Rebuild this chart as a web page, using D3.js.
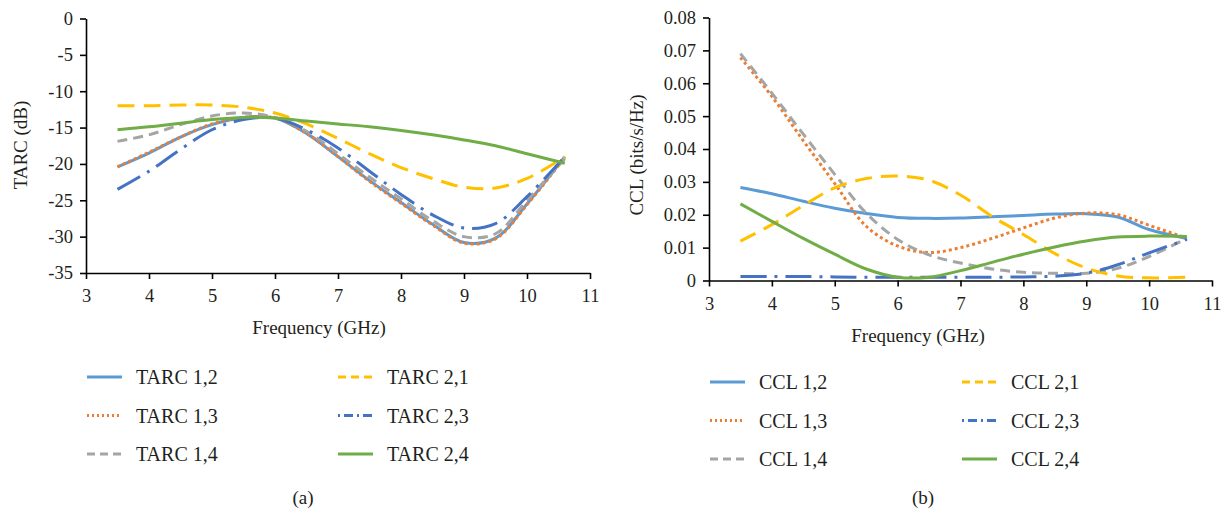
<!DOCTYPE html>
<html>
<head>
<meta charset="utf-8">
<script src="https://cdn.jsdelivr.net/npm/d3@7"></script>
<style>
  body { margin: 0; background: #fff; }
  svg text { font-family: "Liberation Serif", "Times New Roman", serif; fill: #231f20; }
</style>
</head>
<body>
<div id="vizcontainer"></div>
<script>
// frequency grid (GHz)
const freq = [3.5, 4, 4.5, 5, 5.5, 6, 6.5, 7, 7.5, 8, 8.5, 9, 9.5, 10, 10.6];

// panel (a): TARC in dB
const tarc12 = [-20.4, -18.5, -16.3, -14.6, -13.6, -13.7, -15.8, -19.0, -22.3, -25.3, -28.3, -30.8, -30.2, -25.5, -19.0];
const tarc13 = [-20.4, -18.4, -16.3, -14.5, -13.6, -13.7, -15.8, -19.0, -22.4, -25.4, -28.4, -30.9, -30.3, -25.6, -19.1];
const tarc14 = [-16.9, -16.0, -14.6, -13.4, -13.0, -13.6, -15.5, -18.6, -21.8, -24.8, -27.8, -30.0, -29.6, -25.0, -19.3];
const tarc21 = [-12.0, -12.0, -11.9, -11.9, -12.2, -13.0, -14.5, -16.5, -18.6, -20.5, -22.0, -23.2, -23.3, -22.0, -19.0];
const tarc23 = [-23.5, -21.0, -18.0, -15.3, -13.9, -13.7, -15.3, -17.8, -21.0, -24.2, -27.0, -28.8, -28.2, -24.5, -19.0];
const tarc24 = [-15.3, -14.9, -14.4, -13.9, -13.6, -13.7, -14.1, -14.5, -14.9, -15.4, -16.0, -16.7, -17.5, -18.6, -19.9];

// panel (b): CCL in bits/s/Hz
const ccl12 = [0.0283, 0.0264, 0.0241, 0.0220, 0.0204, 0.0192, 0.0189, 0.0190, 0.0194, 0.0198, 0.0202, 0.0203, 0.0193, 0.0155, 0.0128];
const ccl13 = [0.0678, 0.0560, 0.0425, 0.0295, 0.0165, 0.0105, 0.0085, 0.0100, 0.0128, 0.0160, 0.0190, 0.0205, 0.0200, 0.0168, 0.0128];
const ccl14 = [0.0690, 0.0570, 0.0445, 0.0323, 0.0205, 0.0125, 0.0078, 0.0053, 0.0035, 0.0025, 0.0022, 0.0022, 0.0037, 0.0073, 0.0128];
const ccl21 = [0.0120, 0.0170, 0.0228, 0.0282, 0.0310, 0.0318, 0.0305, 0.0260, 0.0195, 0.0140, 0.0082, 0.0038, 0.0014, 0.0008, 0.0010];
const ccl23 = [0.0012, 0.0012, 0.0012, 0.0011, 0.0010, 0.0010, 0.0010, 0.0010, 0.0010, 0.0011, 0.0013, 0.0022, 0.0048, 0.0084, 0.0125];
const ccl24 = [0.0233, 0.0180, 0.0128, 0.0080, 0.0035, 0.0010, 0.0010, 0.0030, 0.0055, 0.0080, 0.0102, 0.0120, 0.0132, 0.0135, 0.0134];

const xTicks = [3, 4, 5, 6, 7, 8, 9, 10, 11];
const tarcTicks = [0, -5, -10, -15, -20, -25, -30, -35];
const cclTicks = [0, 0.01, 0.02, 0.03, 0.04, 0.05, 0.06, 0.07, 0.08];

const tarcNames = ['TARC 1,2', 'TARC 1,3', 'TARC 1,4', 'TARC 2,1', 'TARC 2,3', 'TARC 2,4'];
const cclNames = ['CCL 1,2', 'CCL 1,3', 'CCL 1,4', 'CCL 2,1', 'CCL 2,3', 'CCL 2,4'];

// line styles, same order as the names
const styles = [
  { color: '#5b9bd5', dash: null, legendDash: null },
  { color: '#ed7d31', dash: '3,3', legendDash: '2,3' },
  { color: '#a5a5a5', dash: '10,6', legendDash: '8,5' },
  { color: '#ffc000', dash: '17,9', legendDash: '8,5' },
  { color: '#4472c4', dash: '26,8,3,8', legendDash: '2,4,9,4' },
  { color: '#70ad47', dash: null, legendDash: null }
];

const W = 1230, H = 513;

const svg = d3.select('#vizcontainer')
  .append('svg')
  .attr('width', W)
  .attr('height', H);

function drawPanel(p) {
  const x = d3.scaleLinear().domain([3, 11]).range([p.left, p.right]);
  const y = d3.scaleLinear().domain(p.yDomain).range([p.bottom, p.top]);
  const g = svg.append('g');

  const line = d3.line()
    .x(d => x(d[0]))
    .y(d => y(d[1]))
    .curve(d3.curveCatmullRom.alpha(0.5));

  // series
  p.series.forEach((vals, i) => {
    g.append('path')
      .datum(freq.map((f, j) => [f, vals[j]]))
      .attr('fill', 'none')
      .attr('stroke', styles[i].color)
      .attr('stroke-width', 3)
      .attr('stroke-dasharray', styles[i].dash)
      .attr('d', line);
  });

  // axes
  const xAxis = g.append('g')
    .attr('transform', `translate(0,${p.bottom})`)
    .call(d3.axisBottom(x).tickValues(xTicks).tickSize(6).tickSizeOuter(0).tickFormat(d3.format('d')));
  const yAxis = g.append('g')
    .attr('transform', `translate(${p.left},0)`)
    .call(d3.axisLeft(y).tickValues(p.yTicks).tickSize(6).tickSizeOuter(0).tickFormat(p.fmt));

  [xAxis, yAxis].forEach(a => {
    a.select('.domain').attr('stroke', '#000').attr('stroke-width', 1.6);
    a.selectAll('.tick line').attr('stroke', '#000').attr('stroke-width', 1.6);
    a.selectAll('.tick text')
      .style('font-family', '"Liberation Serif", serif')
      .style('font-size', '18.5px')
      .attr('fill', '#231f20');
  });
  xAxis.selectAll('.tick text').attr('y', 16);
  yAxis.selectAll('.tick text').attr('x', -13);

  // axis titles
  g.append('text')
    .attr('x', p.xTitleX)
    .attr('y', p.xTitleY)
    .attr('text-anchor', 'middle')
    .style('font-size', '19px')
    .text('Frequency (GHz)');

  g.append('text')
    .attr('transform', `translate(${p.yTitleX},${p.yTitleY}) rotate(-90)`)
    .attr('text-anchor', 'middle')
    .style('font-size', '19px')
    .text(p.yTitle);

  // legend, two columns of three
  p.names.forEach((name, i) => {
    const col = i < 3 ? 0 : 1,
      row = i % 3,
      lx = p.legendX[col],
      ly = p.legendY + row * p.legendStep;
    g.append('line')
      .attr('x1', lx).attr('x2', lx + 35)
      .attr('y1', ly).attr('y2', ly)
      .attr('stroke', styles[i].color)
      .attr('stroke-width', 3)
      .attr('stroke-dasharray', styles[i].legendDash);
    g.append('text')
      .attr('x', lx + 49)
      .attr('y', ly)
      .attr('dy', '0.35em')
      .style('font-size', '20px')
      .text(name);
  });

  g.append('text')
    .attr('x', p.captionX)
    .attr('y', 497)
    .attr('dy', '0.35em')
    .attr('text-anchor', 'middle')
    .style('font-size', '19px')
    .text(p.caption);
}

drawPanel({
  left: 86, right: 590, top: 18.5, bottom: 273,
  yDomain: [-35, 0], yTicks: tarcTicks, fmt: d => d3.format('d')(d).replace('−', '-'),
  series: [tarc12, tarc13, tarc14, tarc21, tarc23, tarc24],
  names: tarcNames,
  xTitleX: 319, xTitleY: 334,
  yTitleX: 27, yTitleY: 145, yTitle: 'TARC (dB)',
  legendX: [87, 338], legendY: 377, legendStep: 38.5,
  captionX: 303, caption: '(a)'
});

drawPanel({
  left: 709, right: 1212, top: 17.5, bottom: 280.5,
  yDomain: [0, 0.08], yTicks: cclTicks, fmt: d => d === 0 ? '0' : d3.format('.2f')(d),
  series: [ccl12, ccl13, ccl14, ccl21, ccl23, ccl24],
  names: cclNames,
  xTitleX: 918, xTitleY: 342,
  yTitleX: 643, yTitleY: 155, yTitle: 'CCL (bits/s/Hz)',
  legendX: [710, 962], legendY: 382, legendStep: 38.5,
  captionX: 923, caption: '(b)'
});
</script>
</body>
</html>
